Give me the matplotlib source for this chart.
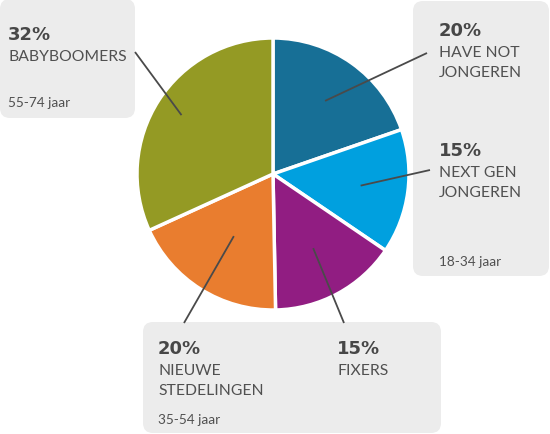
import numpy as np
import matplotlib
matplotlib.use("Agg")
import matplotlib.pyplot as plt
from matplotlib.patches import FancyBboxPatch

# segments, clockwise from 12 o'clock
segments = ["HAVE NOT\nJONGEREN", "NEXT GEN\nJONGEREN", "FIXERS",
            "NIEUWE\nSTEDELINGEN", "BABYBOOMERS"]
shares = [19.7, 14.8, 15.2, 18.5, 31.8]          # slice sizes
pct_labels = ["20%", "15%", "15%", "20%", "32%"]
age_groups = ["18-34 jaar", "35-54 jaar", "55-74 jaar"]
colors = ["#176f96", "#00a0df", "#911d82", "#e97d2f", "#949a24"]

# layout in pixels (y down)
W, H = 550, 435
cx, cy, R = 273, 175, 136
text_pos = [(439, 36), (439, 156), (337, 354), (158, 354), (8, 40)]
line_end = [(427, 54), (430, 171), (344, 324), (184, 324), (135, 53)]
line_depth = [0.66, 0.65, 0.62, 0.54, 0.80]
age_pos = [(439, 266), (158, 424), (8, 107)]
boxes = [(413, 2, 136, 275), (143, 323, 298, 111), (0, 0, 135, 119)]

FONT = "Lato"
TXT = "#505050"

fig = plt.figure(figsize=(5.5, 4.35), dpi=100)
ax = fig.add_axes([0, 0, 1, 1])

for x, y, w, h in boxes:
    ax.add_patch(FancyBboxPatch((x, y), w, h, boxstyle="round,pad=0,rounding_size=10",
                                fc="#ececec", ec="none", zorder=0))

wedges, _ = ax.pie(shares, colors=colors, startangle=-90, counterclock=True,
                   center=(cx, cy), radius=R,
                   wedgeprops=dict(edgecolor="white", linewidth=2.5))

for i, w in enumerate(wedges):
    mid = np.deg2rad((w.theta1 + w.theta2) / 2)
    px = cx + R * line_depth[i] * np.cos(mid)
    py = cy + R * line_depth[i] * np.sin(mid)
    ax.plot([px, line_end[i][0]], [py, line_end[i][1]], color="#4a4a4a", lw=1.3,
            solid_capstyle="butt", zorder=5)

for i, name in enumerate(segments):
    x, y = text_pos[i]
    ax.text(x, y, pct_labels[i], fontsize=13, fontweight="bold", color="#474747",
            family="DejaVu Sans", va="baseline")
    for j, part in enumerate(name.split("\n")):
        ax.text(x, y + 21 + j * 20, part, fontsize=11.3, color=TXT, family=FONT,
                va="baseline")

for (x, y), age in zip(age_pos, age_groups):
    ax.text(x, y, age, fontsize=9.8, color=TXT, family=FONT, va="baseline")

ax.set_xlim(0, W)
ax.set_ylim(H, 0)
ax.set_aspect("equal")
ax.axis("off")

fig.savefig("out.png", dpi=100)
